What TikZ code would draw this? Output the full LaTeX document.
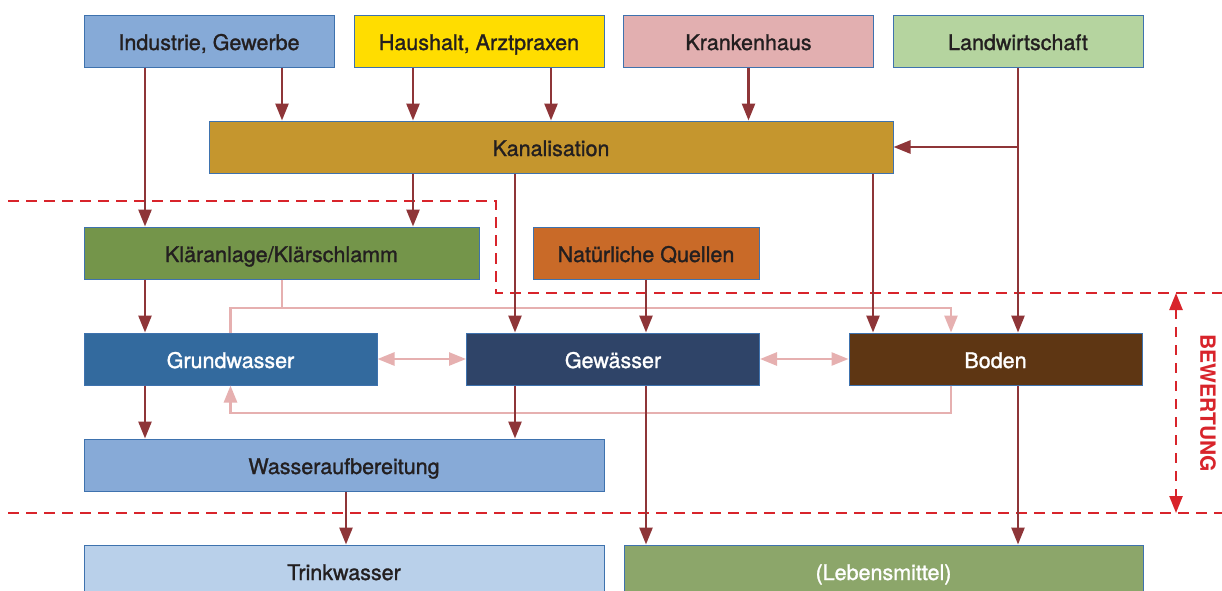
\documentclass[tikz,border=0pt]{standalone}
\usepackage{fontspec}
\setmainfont{TeX Gyre Heros}
\newfontfamily\labfont[FakeBold=1.3]{TeX Gyre Heros}
\usetikzlibrary{arrows.meta}
\definecolor{bordercol}{HTML}{3E72AE}
\definecolor{txt}{HTML}{231F20}
\definecolor{arrcol}{HTML}{8E3538}
\definecolor{pinkcol}{HTML}{E6B0B0}
\definecolor{dashcol}{HTML}{D8242B}
\definecolor{cInd}{HTML}{86AAD7}
\definecolor{cHau}{HTML}{FFDD00}
\definecolor{cKra}{HTML}{E2AFB0}
\definecolor{cLan}{HTML}{B5D49F}
\definecolor{cKan}{HTML}{C5962E}
\definecolor{cKla}{HTML}{74954A}
\definecolor{cNat}{HTML}{C96A28}
\definecolor{cGru}{HTML}{336A9E}
\definecolor{cGew}{HTML}{2F4468}
\definecolor{cBod}{HTML}{5E3613}
\definecolor{cWas}{HTML}{87AAD7}
\definecolor{cTri}{HTML}{B9D0EA}
\definecolor{cLeb}{HTML}{8CA66A}
\begin{document}
\begin{tikzpicture}[x=1pt,y=-1pt,
  box/.style={draw=bordercol, line width=1pt, minimum height=52pt, inner sep=0pt,
    text height=19pt, text depth=1pt,
    font=\labfont\fontsize{21.5}{25}\selectfont, text=txt},
  arr/.style={draw=arrcol, line width=2.6pt, -{Triangle[length=17pt,width=13pt]}},
  parr/.style={draw=pinkcol, line width=2.6pt, -{Triangle[length=17pt,width=13pt]}},
  pline/.style={draw=pinkcol, line width=2.6pt},
  pdarr/.style={draw=pinkcol, line width=2.6pt, {Triangle[length=17pt,width=13pt]}-{Triangle[length=17pt,width=13pt]}},
  dline/.style={draw=dashcol, line width=2.4pt, dash pattern=on 11pt off 7pt},
  barr/.style={draw=dashcol, line width=2.4pt, dash pattern=on 10pt off 8pt, {Triangle[length=17pt,width=13pt]}-{Triangle[length=17pt,width=13pt]}}
]
\clip (0,0) rectangle (1222,590);
\fill[white] (0,0) rectangle (1222,590);

% nodes
\node[box, fill=cInd, minimum width=250pt] (ind) at (209,41) {Industrie, Gewerbe};
\node[box, fill=cHau, minimum width=250pt] (hau) at (479,41) {Haushalt, Arztpraxen};
\node[box, fill=cKra, minimum width=250pt] (kra) at (748.5,41) {Krankenhaus};
\node[box, fill=cLan, minimum width=250pt] (lan) at (1018,41) {Landwirtschaft};
\node[box, fill=cKan, minimum width=684pt] (kan) at (551,147) {Kanalisation};
\node[box, fill=cKla, minimum width=395pt] (kla) at (281.5,253) {Kläranlage/Klärschlamm};
\node[box, fill=cNat, minimum width=226pt] (nat) at (646,253) {Natürliche Quellen};
\node[box, fill=cGru, minimum width=293pt, text=white] (gru) at (230.5,359) {Grundwasser};
\node[box, fill=cGew, minimum width=293pt, text=white] (gew) at (613,359) {Gewässer};
\node[box, fill=cBod, minimum width=293pt, text=white] (bod) at (995.5,359) {Boden};
\node[box, fill=cWas, minimum width=520pt] (was) at (344,465) {Wasseraufbereitung};
\node[box, fill=cTri, minimum width=520pt] (tri) at (344,571) {Trinkwasser};
\node[box, fill=cLeb, minimum width=519pt, text=white] (leb) at (883.5,571) {(Lebensmittel)};

% helper coordinates
\coordinate (x145) at (145,0);
\coordinate (x282) at (282,0);
\coordinate (x413) at (413,0);
\coordinate (x515) at (515,0);
\coordinate (x873) at (873,0);
\coordinate (x951) at (951,0);
\coordinate (x346) at (346,0);
\coordinate (p1) at (282,308);
\coordinate (p2) at (951,413);

% dashed evaluation borders
\draw[dline] (8,201) -- (496,201) -- (496,293) -- (1222,293);
\draw[dline] (8,513) -- (1222,513);
\coordinate (bt) at (1176,293);
\coordinate (bb) at (1176,513);
\draw[barr] (bt) -- (bb);
\node[rotate=-90, text=dashcol, font=\bfseries\fontsize{21}{25}\selectfont] (bew) at (1208,403) {BEWERTUNG};

% pink connectors
\draw[pline] (kla.south -| p1) -- (p1) -| (gru.north);
\draw[parr] (p1) -- (p1 -| x951) -- (bod.north -| x951);
\draw[parr] (bod.south -| x951) -- (p2) -| (gru.south);
\draw[pdarr] (gru.east) -- (gew.west);
\draw[pdarr] (gew.east) -- (bod.west);

% dark connectors
\draw[arr] (ind.south -| x145) -- (kla.north -| x145);
\draw[arr] (ind.south -| x282) -- (kan.north -| x282);
\draw[arr] (hau.south -| x413) -- (kan.north -| x413);
\draw[arr] (hau.south -| kan.north) -- (kan.north);
\draw[arr] (kra.south) -- (kan.north -| kra.south);
\draw[arr] (lan.south) -- (bod.north -| lan.south);
\draw[arr] (lan.south |- kan.east) -- (kan.east);
\draw[arr] (kan.south -| x413) -- (kla.north -| x413);
\draw[arr] (kan.south -| x515) -- (gew.north -| x515);
\draw[arr] (kan.south -| x873) -- (bod.north -| x873);
\draw[arr] (kla.south -| x145) -- (gru.north -| x145);
\draw[arr] (nat.south) -- (gew.north -| nat.south);
\draw[arr] (gru.south -| x145) -- (was.north -| x145);
\draw[arr] (gew.south -| x515) -- (was.north -| x515);
\draw[arr] (gew.south -| nat.south) -- (leb.north -| nat.south);
\draw[arr] (bod.south -| lan.south) -- (leb.north -| lan.south);
\draw[arr] (was.south -| x346) -- (tri.north -| x346);
\end{tikzpicture}
\end{document}
